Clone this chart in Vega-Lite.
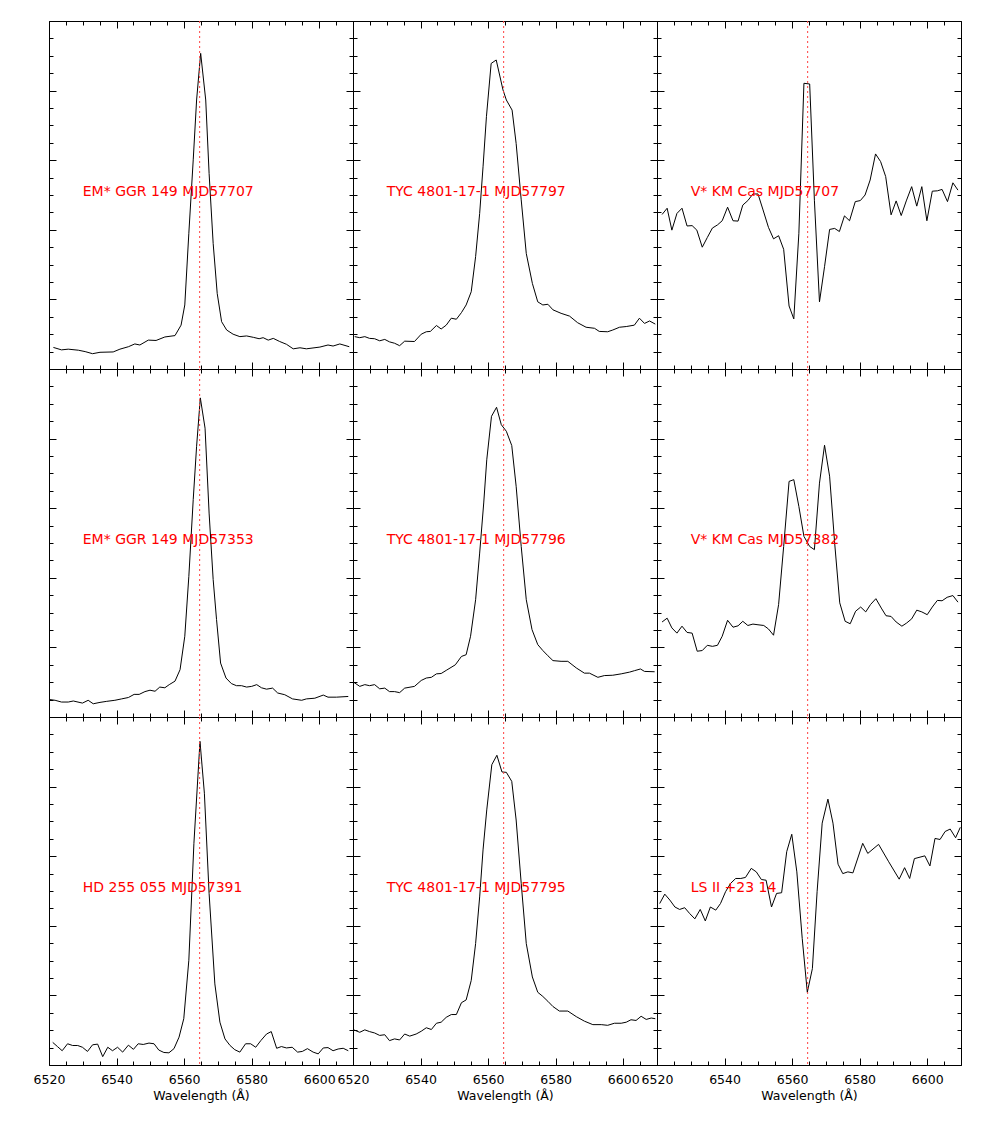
{
"$schema": "https://vega.github.io/schema/vega-lite/v6.json",
"background": "white",
"padding": {"left": 32, "top": 20, "right": 0, "bottom": 0},
"config": {"view": {"stroke": "black", "strokeWidth": 1}, "font": "DejaVu Sans", "axis": {"tickColor": "black", "tickWidth": 1, "labelColor": "black", "titleColor": "black", "labelFont": "DejaVu Sans", "titleFont": "DejaVu Sans"}},
"datasets": {
"s1": [{"w":6521.3,"f":0.062},{"w":6523.7,"f":0.055},{"w":6525.7,"f":0.057},{"w":6528.7,"f":0.054},{"w":6530.7,"f":0.050},{"w":6532.9,"f":0.044},{"w":6535.1,"f":0.048},{"w":6539.0,"f":0.049},{"w":6541.0,"f":0.057},{"w":6543.5,"f":0.064},{"w":6545.4,"f":0.072},{"w":6546.9,"f":0.069},{"w":6549.4,"f":0.083},{"w":6551.7,"f":0.082},{"w":6554.3,"f":0.092},{"w":6557.3,"f":0.096},{"w":6559.1,"f":0.126},{"w":6560.2,"f":0.184},{"w":6561.4,"f":0.390},{"w":6562.7,"f":0.601},{"w":6563.7,"f":0.773},{"w":6564.9,"f":0.907},{"w":6566.4,"f":0.773},{"w":6567.4,"f":0.562},{"w":6568.6,"f":0.361},{"w":6569.8,"f":0.217},{"w":6571.1,"f":0.136},{"w":6572.6,"f":0.112},{"w":6574.5,"f":0.100},{"w":6576.5,"f":0.093},{"w":6578.5,"f":0.095},{"w":6580.5,"f":0.091},{"w":6582.2,"f":0.087},{"w":6583.4,"f":0.090},{"w":6584.9,"f":0.083},{"w":6586.4,"f":0.088},{"w":6588.3,"f":0.079},{"w":6590.3,"f":0.071},{"w":6592.3,"f":0.058},{"w":6594.3,"f":0.061},{"w":6596.2,"f":0.058},{"w":6600.2,"f":0.063},{"w":6602.6,"f":0.069},{"w":6604.1,"f":0.066},{"w":6606.1,"f":0.072},{"w":6608.9,"f":0.064}],
"s2": [{"w":6520.5,"f":0.093},{"w":6522.0,"f":0.090},{"w":6523.5,"f":0.093},{"w":6524.9,"f":0.088},{"w":6526.4,"f":0.087},{"w":6527.9,"f":0.081},{"w":6529.4,"f":0.085},{"w":6530.8,"f":0.078},{"w":6532.3,"f":0.074},{"w":6533.8,"f":0.067},{"w":6535.3,"f":0.080},{"w":6538.2,"f":0.079},{"w":6540.2,"f":0.100},{"w":6541.7,"f":0.107},{"w":6542.9,"f":0.108},{"w":6544.7,"f":0.125},{"w":6546.1,"f":0.115},{"w":6547.6,"f":0.126},{"w":6549.1,"f":0.146},{"w":6550.6,"f":0.143},{"w":6552.1,"f":0.162},{"w":6553.5,"f":0.184},{"w":6555.0,"f":0.222},{"w":6556.3,"f":0.323},{"w":6557.5,"f":0.447},{"w":6558.5,"f":0.581},{"w":6559.5,"f":0.725},{"w":6560.9,"f":0.878},{"w":6562.4,"f":0.888},{"w":6564.4,"f":0.802},{"w":6565.4,"f":0.773},{"w":6567.1,"f":0.744},{"w":6568.3,"f":0.648},{"w":6569.8,"f":0.486},{"w":6571.3,"f":0.332},{"w":6573.1,"f":0.246},{"w":6574.7,"f":0.193},{"w":6576.2,"f":0.184},{"w":6577.7,"f":0.186},{"w":6579.2,"f":0.170},{"w":6581.6,"f":0.160},{"w":6584.1,"f":0.152},{"w":6586.5,"f":0.133},{"w":6589.0,"f":0.120},{"w":6591.5,"f":0.117},{"w":6592.9,"f":0.108},{"w":6595.4,"f":0.107},{"w":6596.9,"f":0.112},{"w":6598.9,"f":0.120},{"w":6600.9,"f":0.122},{"w":6603.3,"f":0.126},{"w":6604.8,"f":0.146},{"w":6606.3,"f":0.131},{"w":6607.8,"f":0.138},{"w":6609.5,"f":0.129}],
"s3": [{"w":6521.5,"f":0.444},{"w":6523.0,"f":0.462},{"w":6524.4,"f":0.399},{"w":6525.9,"f":0.447},{"w":6527.4,"f":0.462},{"w":6528.9,"f":0.411},{"w":6530.4,"f":0.412},{"w":6531.8,"f":0.399},{"w":6533.4,"f":0.350},{"w":6534.9,"f":0.378},{"w":6536.4,"f":0.405},{"w":6537.9,"f":0.414},{"w":6539.3,"f":0.426},{"w":6540.9,"f":0.465},{"w":6542.5,"f":0.426},{"w":6544.0,"f":0.425},{"w":6545.4,"f":0.471},{"w":6546.9,"f":0.484},{"w":6548.4,"f":0.503},{"w":6549.9,"f":0.503},{"w":6551.4,"f":0.457},{"w":6553.0,"f":0.407},{"w":6554.5,"f":0.374},{"w":6556.0,"f":0.383},{"w":6557.5,"f":0.344},{"w":6559.1,"f":0.181},{"w":6560.5,"f":0.144},{"w":6562.0,"f":0.390},{"w":6563.5,"f":0.821},{"w":6565.2,"f":0.819},{"w":6566.6,"f":0.485},{"w":6568.1,"f":0.193},{"w":6569.6,"f":0.294},{"w":6571.1,"f":0.401},{"w":6572.6,"f":0.404},{"w":6574.0,"f":0.395},{"w":6575.5,"f":0.440},{"w":6577.0,"f":0.426},{"w":6578.7,"f":0.481},{"w":6580.2,"f":0.484},{"w":6581.6,"f":0.500},{"w":6583.1,"f":0.543},{"w":6584.7,"f":0.618},{"w":6586.2,"f":0.596},{"w":6587.7,"f":0.553},{"w":6589.3,"f":0.443},{"w":6590.8,"f":0.483},{"w":6592.3,"f":0.441},{"w":6593.8,"f":0.483},{"w":6595.4,"f":0.524},{"w":6596.9,"f":0.468},{"w":6598.4,"f":0.524},{"w":6599.9,"f":0.426},{"w":6601.5,"f":0.511},{"w":6603.0,"f":0.512},{"w":6604.4,"f":0.516},{"w":6606.0,"f":0.481},{"w":6607.6,"f":0.535},{"w":6609.1,"f":0.514}],
"s4": [{"w":6520.3,"f":0.050},{"w":6521.8,"f":0.048},{"w":6523.7,"f":0.043},{"w":6525.7,"f":0.043},{"w":6527.2,"f":0.046},{"w":6529.9,"f":0.040},{"w":6531.6,"f":0.048},{"w":6533.1,"f":0.038},{"w":6535.1,"f":0.042},{"w":6537.1,"f":0.045},{"w":6539.5,"f":0.048},{"w":6541.5,"f":0.052},{"w":6543.5,"f":0.056},{"w":6545.2,"f":0.065},{"w":6546.7,"f":0.065},{"w":6548.4,"f":0.073},{"w":6549.9,"f":0.077},{"w":6551.4,"f":0.074},{"w":6552.8,"f":0.086},{"w":6554.3,"f":0.084},{"w":6555.6,"f":0.093},{"w":6557.3,"f":0.103},{"w":6558.8,"f":0.136},{"w":6560.2,"f":0.232},{"w":6561.4,"f":0.404},{"w":6562.7,"f":0.625},{"w":6563.7,"f":0.778},{"w":6564.8,"f":0.917},{"w":6566.2,"f":0.830},{"w":6567.4,"f":0.586},{"w":6568.6,"f":0.395},{"w":6569.6,"f":0.280},{"w":6570.8,"f":0.155},{"w":6572.4,"f":0.112},{"w":6574.0,"f":0.096},{"w":6575.5,"f":0.090},{"w":6577.0,"f":0.090},{"w":6578.5,"f":0.086},{"w":6580.0,"f":0.088},{"w":6581.5,"f":0.093},{"w":6582.9,"f":0.084},{"w":6584.4,"f":0.080},{"w":6586.2,"f":0.083},{"w":6587.7,"f":0.069},{"w":6589.8,"f":0.064},{"w":6592.1,"f":0.052},{"w":6594.8,"f":0.048},{"w":6596.2,"f":0.052},{"w":6598.7,"f":0.054},{"w":6601.2,"f":0.063},{"w":6602.6,"f":0.057},{"w":6605.1,"f":0.057},{"w":6608.6,"f":0.059}],
"s5": [{"w":6520.2,"f":0.100},{"w":6522.0,"f":0.088},{"w":6523.5,"f":0.093},{"w":6524.9,"f":0.090},{"w":6526.4,"f":0.093},{"w":6527.9,"f":0.081},{"w":6529.4,"f":0.083},{"w":6530.8,"f":0.073},{"w":6532.3,"f":0.073},{"w":6533.8,"f":0.070},{"w":6535.3,"f":0.083},{"w":6538.2,"f":0.088},{"w":6540.2,"f":0.105},{"w":6541.7,"f":0.112},{"w":6543.2,"f":0.114},{"w":6544.7,"f":0.124},{"w":6546.1,"f":0.125},{"w":6547.6,"f":0.134},{"w":6550.3,"f":0.150},{"w":6552.1,"f":0.174},{"w":6553.5,"f":0.179},{"w":6554.8,"f":0.232},{"w":6556.3,"f":0.337},{"w":6557.5,"f":0.471},{"w":6558.7,"f":0.615},{"w":6559.6,"f":0.739},{"w":6561.0,"f":0.864},{"w":6562.5,"f":0.890},{"w":6563.9,"f":0.840},{"w":6565.4,"f":0.821},{"w":6567.0,"f":0.780},{"w":6568.3,"f":0.663},{"w":6569.8,"f":0.490},{"w":6571.3,"f":0.337},{"w":6573.0,"f":0.251},{"w":6574.7,"f":0.208},{"w":6576.2,"f":0.191},{"w":6577.7,"f":0.176},{"w":6579.2,"f":0.162},{"w":6581.6,"f":0.160},{"w":6583.6,"f":0.160},{"w":6586.1,"f":0.141},{"w":6588.5,"f":0.126},{"w":6590.0,"f":0.126},{"w":6592.5,"f":0.114},{"w":6594.4,"f":0.119},{"w":6596.9,"f":0.120},{"w":6599.4,"f":0.124},{"w":6601.9,"f":0.129},{"w":6603.3,"f":0.133},{"w":6605.1,"f":0.138},{"w":6606.3,"f":0.131},{"w":6609.3,"f":0.130}],
"s6": [{"w":6521.5,"f":0.273},{"w":6523.0,"f":0.284},{"w":6524.4,"f":0.256},{"w":6525.9,"f":0.241},{"w":6527.4,"f":0.261},{"w":6528.9,"f":0.243},{"w":6530.4,"f":0.241},{"w":6531.9,"f":0.189},{"w":6533.4,"f":0.191},{"w":6534.9,"f":0.206},{"w":6536.4,"f":0.203},{"w":6537.9,"f":0.206},{"w":6539.3,"f":0.232},{"w":6540.9,"f":0.278},{"w":6542.5,"f":0.258},{"w":6544.0,"f":0.262},{"w":6545.4,"f":0.275},{"w":6546.9,"f":0.263},{"w":6548.4,"f":0.267},{"w":6549.9,"f":0.265},{"w":6551.6,"f":0.263},{"w":6553.0,"f":0.253},{"w":6554.5,"f":0.235},{"w":6556.0,"f":0.323},{"w":6557.5,"f":0.490},{"w":6559.1,"f":0.677},{"w":6560.5,"f":0.682},{"w":6562.0,"f":0.605},{"w":6563.5,"f":0.519},{"w":6565.2,"f":0.490},{"w":6566.6,"f":0.481},{"w":6568.1,"f":0.672},{"w":6569.6,"f":0.781},{"w":6571.1,"f":0.692},{"w":6572.6,"f":0.500},{"w":6574.1,"f":0.328},{"w":6575.7,"f":0.275},{"w":6577.2,"f":0.268},{"w":6578.8,"f":0.304},{"w":6580.3,"f":0.316},{"w":6581.8,"f":0.302},{"w":6583.2,"f":0.323},{"w":6584.8,"f":0.340},{"w":6586.4,"f":0.313},{"w":6587.8,"f":0.291},{"w":6589.3,"f":0.289},{"w":6590.8,"f":0.273},{"w":6592.5,"f":0.261},{"w":6593.9,"f":0.270},{"w":6595.4,"f":0.282},{"w":6596.9,"f":0.307},{"w":6598.4,"f":0.302},{"w":6600.0,"f":0.294},{"w":6601.5,"f":0.316},{"w":6603.0,"f":0.335},{"w":6604.4,"f":0.334},{"w":6605.9,"f":0.344},{"w":6607.6,"f":0.349},{"w":6609.1,"f":0.330}],
"s7": [{"w":6521.1,"f":0.065},{"w":6522.5,"f":0.053},{"w":6523.9,"f":0.041},{"w":6525.5,"f":0.061},{"w":6527.0,"f":0.056},{"w":6528.5,"f":0.056},{"w":6529.9,"f":0.051},{"w":6531.4,"f":0.039},{"w":6532.9,"f":0.058},{"w":6534.4,"f":0.060},{"w":6535.9,"f":0.024},{"w":6537.4,"f":0.051},{"w":6538.8,"f":0.041},{"w":6540.3,"f":0.051},{"w":6541.8,"f":0.037},{"w":6543.5,"f":0.057},{"w":6545.0,"f":0.045},{"w":6546.4,"f":0.061},{"w":6547.9,"f":0.059},{"w":6549.6,"f":0.063},{"w":6551.1,"f":0.061},{"w":6552.5,"f":0.043},{"w":6554.0,"f":0.036},{"w":6555.5,"f":0.035},{"w":6557.0,"f":0.047},{"w":6558.5,"f":0.080},{"w":6559.9,"f":0.133},{"w":6561.4,"f":0.301},{"w":6562.9,"f":0.637},{"w":6564.7,"f":0.930},{"w":6566.0,"f":0.781},{"w":6567.4,"f":0.493},{"w":6569.1,"f":0.233},{"w":6570.6,"f":0.123},{"w":6572.1,"f":0.075},{"w":6573.6,"f":0.056},{"w":6575.0,"f":0.044},{"w":6576.5,"f":0.037},{"w":6578.2,"f":0.061},{"w":6579.7,"f":0.061},{"w":6581.2,"f":0.051},{"w":6582.7,"f":0.070},{"w":6584.4,"f":0.089},{"w":6585.8,"f":0.096},{"w":6587.4,"f":0.048},{"w":6588.8,"f":0.053},{"w":6590.3,"f":0.049},{"w":6592.0,"f":0.051},{"w":6593.6,"f":0.037},{"w":6595.0,"f":0.039},{"w":6596.5,"f":0.047},{"w":6598.2,"f":0.037},{"w":6599.7,"f":0.032},{"w":6601.2,"f":0.049},{"w":6602.6,"f":0.050},{"w":6604.1,"f":0.041},{"w":6605.6,"f":0.046},{"w":6607.1,"f":0.048},{"w":6608.6,"f":0.041}],
"s8": [{"w":6520.2,"f":0.101},{"w":6522.0,"f":0.094},{"w":6523.5,"f":0.101},{"w":6524.9,"f":0.096},{"w":6526.4,"f":0.092},{"w":6527.9,"f":0.085},{"w":6529.4,"f":0.087},{"w":6530.8,"f":0.070},{"w":6532.3,"f":0.075},{"w":6533.8,"f":0.072},{"w":6535.3,"f":0.089},{"w":6536.8,"f":0.083},{"w":6538.7,"f":0.089},{"w":6540.2,"f":0.097},{"w":6541.7,"f":0.107},{"w":6543.2,"f":0.102},{"w":6544.7,"f":0.120},{"w":6546.1,"f":0.123},{"w":6547.6,"f":0.137},{"w":6549.1,"f":0.145},{"w":6550.6,"f":0.145},{"w":6552.1,"f":0.179},{"w":6553.5,"f":0.187},{"w":6555.0,"f":0.243},{"w":6556.3,"f":0.349},{"w":6557.5,"f":0.483},{"w":6558.5,"f":0.618},{"w":6559.6,"f":0.733},{"w":6561.1,"f":0.863},{"w":6562.6,"f":0.890},{"w":6564.1,"f":0.842},{"w":6565.4,"f":0.841},{"w":6567.0,"f":0.815},{"w":6568.3,"f":0.704},{"w":6569.8,"f":0.522},{"w":6571.3,"f":0.349},{"w":6573.1,"f":0.253},{"w":6574.7,"f":0.209},{"w":6576.2,"f":0.197},{"w":6577.7,"f":0.183},{"w":6579.2,"f":0.168},{"w":6581.1,"f":0.155},{"w":6583.6,"f":0.155},{"w":6586.1,"f":0.139},{"w":6588.5,"f":0.126},{"w":6591.0,"f":0.116},{"w":6593.5,"f":0.116},{"w":6595.4,"f":0.114},{"w":6597.4,"f":0.120},{"w":6599.4,"f":0.120},{"w":6600.9,"f":0.123},{"w":6602.3,"f":0.130},{"w":6603.8,"f":0.128},{"w":6605.3,"f":0.140},{"w":6606.8,"f":0.131},{"w":6608.3,"f":0.135},{"w":6609.5,"f":0.133}],
"s9": [{"w":6520.8,"f":0.464},{"w":6522.3,"f":0.491},{"w":6523.8,"f":0.474},{"w":6525.3,"f":0.454},{"w":6526.7,"f":0.447},{"w":6528.2,"f":0.452},{"w":6529.7,"f":0.435},{"w":6531.2,"f":0.420},{"w":6532.8,"f":0.447},{"w":6534.3,"f":0.414},{"w":6535.8,"f":0.454},{"w":6537.4,"f":0.445},{"w":6538.8,"f":0.464},{"w":6540.3,"f":0.498},{"w":6541.8,"f":0.522},{"w":6543.3,"f":0.536},{"w":6544.8,"f":0.536},{"w":6546.2,"f":0.539},{"w":6547.9,"f":0.565},{"w":6549.4,"f":0.555},{"w":6550.9,"f":0.533},{"w":6552.3,"f":0.531},{"w":6553.9,"f":0.454},{"w":6555.4,"f":0.493},{"w":6556.9,"f":0.495},{"w":6558.4,"f":0.613},{"w":6559.9,"f":0.663},{"w":6561.4,"f":0.555},{"w":6563.0,"f":0.363},{"w":6564.5,"f":0.209},{"w":6566.0,"f":0.277},{"w":6567.4,"f":0.498},{"w":6568.9,"f":0.695},{"w":6570.6,"f":0.764},{"w":6572.1,"f":0.695},{"w":6573.6,"f":0.577},{"w":6575.0,"f":0.550},{"w":6576.5,"f":0.555},{"w":6578.0,"f":0.552},{"w":6580.9,"f":0.637},{"w":6582.4,"f":0.608},{"w":6585.6,"f":0.634},{"w":6588.6,"f":0.584},{"w":6591.7,"f":0.534},{"w":6593.3,"f":0.567},{"w":6594.8,"f":0.536},{"w":6596.2,"f":0.593},{"w":6599.3,"f":0.601},{"w":6600.8,"f":0.572},{"w":6602.3,"f":0.651},{"w":6603.8,"f":0.648},{"w":6605.3,"f":0.671},{"w":6606.8,"f":0.678},{"w":6608.4,"f":0.653},{"w":6609.8,"f":0.683}]
},
"columns": 3,
"spacing": 0,
"bounds": "flush",
"concat": [
{"width": 304, "height": 348, "layer": [
 {"data": {"name": "s1"}, "mark": {"type": "line", "color": "black", "strokeWidth": 1}, "encoding": {
  "x": {"field": "w", "type": "quantitative", "scale": {"domain": [6520, 6610], "nice": false, "zero": false}, "axis": {"orient": "bottom", "labels": false, "title": null, "domain": false, "grid": false, "tickCount": 18, "tickSize": {"condition": {"test": "datum.value % 20 === 0", "value": -7}, "value": -4}}},
  "y": {"field": "f", "type": "quantitative", "scale": {"domain": [0, 1], "nice": false, "zero": false}, "axis": {"orient": "left", "labels": false, "title": null, "domain": false, "grid": false, "tickCount": 20, "tickSize": {"condition": {"test": "abs(datum.value*5-round(datum.value*5))<0.001", "value": -7}, "value": -4}}}}},
 {"data": {"values": [{}]}, "mark": {"type": "rule", "color": "#ff4040", "strokeWidth": 1, "strokeDash": [2, 3]}, "encoding": {
  "x": {"datum": 6564.6, "type": "quantitative", "scale": {"domain": [6520, 6610], "nice": false, "zero": false}, "axis": {"orient": "top", "labels": false, "title": null, "domain": false, "grid": false, "tickCount": 18, "tickSize": {"condition": {"test": "datum.value % 20 === 0", "value": -7}, "value": -4}}}}},
 {"data": {"values": [{}]}, "mark": {"type": "text", "text": "EM* GGR 149 MJD57707", "align": "left", "baseline": "middle", "color": "#ff0000", "font": "DejaVu Sans", "fontSize": 14}, "encoding": {
  "x": {"datum": 6530, "type": "quantitative", "scale": {"domain": [6520, 6610], "nice": false, "zero": false}, "axis": null},
  "y": {"datum": 0.51, "type": "quantitative", "scale": {"domain": [0, 1], "nice": false, "zero": false}, "axis": {"orient": "right", "labels": false, "title": null, "domain": false, "grid": false, "tickCount": 20, "tickSize": {"condition": {"test": "abs(datum.value*5-round(datum.value*5))<0.001", "value": -7}, "value": -4}}}}}
], "resolve": {"axis": {"x": "independent", "y": "independent"}}},
{"width": 304, "height": 348, "layer": [
 {"data": {"name": "s2"}, "mark": {"type": "line", "color": "black", "strokeWidth": 1}, "encoding": {
  "x": {"field": "w", "type": "quantitative", "scale": {"domain": [6520, 6610], "nice": false, "zero": false}, "axis": {"orient": "bottom", "labels": false, "title": null, "domain": false, "grid": false, "tickCount": 18, "tickSize": {"condition": {"test": "datum.value % 20 === 0", "value": -7}, "value": -4}}},
  "y": {"field": "f", "type": "quantitative", "scale": {"domain": [0, 1], "nice": false, "zero": false}, "axis": {"orient": "left", "labels": false, "title": null, "domain": false, "grid": false, "tickCount": 20, "tickSize": {"condition": {"test": "abs(datum.value*5-round(datum.value*5))<0.001", "value": -7}, "value": -4}}}}},
 {"data": {"values": [{}]}, "mark": {"type": "rule", "color": "#ff4040", "strokeWidth": 1, "strokeDash": [2, 3]}, "encoding": {
  "x": {"datum": 6564.6, "type": "quantitative", "scale": {"domain": [6520, 6610], "nice": false, "zero": false}, "axis": {"orient": "top", "labels": false, "title": null, "domain": false, "grid": false, "tickCount": 18, "tickSize": {"condition": {"test": "datum.value % 20 === 0", "value": -7}, "value": -4}}}}},
 {"data": {"values": [{}]}, "mark": {"type": "text", "text": "TYC 4801-17-1 MJD57797", "align": "left", "baseline": "middle", "color": "#ff0000", "font": "DejaVu Sans", "fontSize": 14}, "encoding": {
  "x": {"datum": 6530, "type": "quantitative", "scale": {"domain": [6520, 6610], "nice": false, "zero": false}, "axis": null},
  "y": {"datum": 0.51, "type": "quantitative", "scale": {"domain": [0, 1], "nice": false, "zero": false}, "axis": {"orient": "right", "labels": false, "title": null, "domain": false, "grid": false, "tickCount": 20, "tickSize": {"condition": {"test": "abs(datum.value*5-round(datum.value*5))<0.001", "value": -7}, "value": -4}}}}}
], "resolve": {"axis": {"x": "independent", "y": "independent"}}},
{"width": 304, "height": 348, "layer": [
 {"data": {"name": "s3"}, "mark": {"type": "line", "color": "black", "strokeWidth": 1}, "encoding": {
  "x": {"field": "w", "type": "quantitative", "scale": {"domain": [6520, 6610], "nice": false, "zero": false}, "axis": {"orient": "bottom", "labels": false, "title": null, "domain": false, "grid": false, "tickCount": 18, "tickSize": {"condition": {"test": "datum.value % 20 === 0", "value": -7}, "value": -4}}},
  "y": {"field": "f", "type": "quantitative", "scale": {"domain": [0, 1], "nice": false, "zero": false}, "axis": {"orient": "left", "labels": false, "title": null, "domain": false, "grid": false, "tickCount": 20, "tickSize": {"condition": {"test": "abs(datum.value*5-round(datum.value*5))<0.001", "value": -7}, "value": -4}}}}},
 {"data": {"values": [{}]}, "mark": {"type": "rule", "color": "#ff4040", "strokeWidth": 1, "strokeDash": [2, 3]}, "encoding": {
  "x": {"datum": 6564.6, "type": "quantitative", "scale": {"domain": [6520, 6610], "nice": false, "zero": false}, "axis": {"orient": "top", "labels": false, "title": null, "domain": false, "grid": false, "tickCount": 18, "tickSize": {"condition": {"test": "datum.value % 20 === 0", "value": -7}, "value": -4}}}}},
 {"data": {"values": [{}]}, "mark": {"type": "text", "text": "V* KM Cas MJD57707", "align": "left", "baseline": "middle", "color": "#ff0000", "font": "DejaVu Sans", "fontSize": 14}, "encoding": {
  "x": {"datum": 6530, "type": "quantitative", "scale": {"domain": [6520, 6610], "nice": false, "zero": false}, "axis": null},
  "y": {"datum": 0.51, "type": "quantitative", "scale": {"domain": [0, 1], "nice": false, "zero": false}, "axis": {"orient": "right", "labels": false, "title": null, "domain": false, "grid": false, "tickCount": 20, "tickSize": {"condition": {"test": "abs(datum.value*5-round(datum.value*5))<0.001", "value": -7}, "value": -4}}}}}
], "resolve": {"axis": {"x": "independent", "y": "independent"}}},
{"width": 304, "height": 348, "layer": [
 {"data": {"name": "s4"}, "mark": {"type": "line", "color": "black", "strokeWidth": 1}, "encoding": {
  "x": {"field": "w", "type": "quantitative", "scale": {"domain": [6520, 6610], "nice": false, "zero": false}, "axis": {"orient": "bottom", "labels": false, "title": null, "domain": false, "grid": false, "tickCount": 18, "tickSize": {"condition": {"test": "datum.value % 20 === 0", "value": -7}, "value": -4}}},
  "y": {"field": "f", "type": "quantitative", "scale": {"domain": [0, 1], "nice": false, "zero": false}, "axis": {"orient": "left", "labels": false, "title": null, "domain": false, "grid": false, "tickCount": 20, "tickSize": {"condition": {"test": "abs(datum.value*5-round(datum.value*5))<0.001", "value": -7}, "value": -4}}}}},
 {"data": {"values": [{}]}, "mark": {"type": "rule", "color": "#ff4040", "strokeWidth": 1, "strokeDash": [2, 3]}, "encoding": {
  "x": {"datum": 6564.6, "type": "quantitative", "scale": {"domain": [6520, 6610], "nice": false, "zero": false}, "axis": {"orient": "top", "labels": false, "title": null, "domain": false, "grid": false, "tickCount": 18, "tickSize": {"condition": {"test": "datum.value % 20 === 0", "value": -7}, "value": -4}}}}},
 {"data": {"values": [{}]}, "mark": {"type": "text", "text": "EM* GGR 149 MJD57353", "align": "left", "baseline": "middle", "color": "#ff0000", "font": "DejaVu Sans", "fontSize": 14}, "encoding": {
  "x": {"datum": 6530, "type": "quantitative", "scale": {"domain": [6520, 6610], "nice": false, "zero": false}, "axis": null},
  "y": {"datum": 0.51, "type": "quantitative", "scale": {"domain": [0, 1], "nice": false, "zero": false}, "axis": {"orient": "right", "labels": false, "title": null, "domain": false, "grid": false, "tickCount": 20, "tickSize": {"condition": {"test": "abs(datum.value*5-round(datum.value*5))<0.001", "value": -7}, "value": -4}}}}}
], "resolve": {"axis": {"x": "independent", "y": "independent"}}},
{"width": 304, "height": 348, "layer": [
 {"data": {"name": "s5"}, "mark": {"type": "line", "color": "black", "strokeWidth": 1}, "encoding": {
  "x": {"field": "w", "type": "quantitative", "scale": {"domain": [6520, 6610], "nice": false, "zero": false}, "axis": {"orient": "bottom", "labels": false, "title": null, "domain": false, "grid": false, "tickCount": 18, "tickSize": {"condition": {"test": "datum.value % 20 === 0", "value": -7}, "value": -4}}},
  "y": {"field": "f", "type": "quantitative", "scale": {"domain": [0, 1], "nice": false, "zero": false}, "axis": {"orient": "left", "labels": false, "title": null, "domain": false, "grid": false, "tickCount": 20, "tickSize": {"condition": {"test": "abs(datum.value*5-round(datum.value*5))<0.001", "value": -7}, "value": -4}}}}},
 {"data": {"values": [{}]}, "mark": {"type": "rule", "color": "#ff4040", "strokeWidth": 1, "strokeDash": [2, 3]}, "encoding": {
  "x": {"datum": 6564.6, "type": "quantitative", "scale": {"domain": [6520, 6610], "nice": false, "zero": false}, "axis": {"orient": "top", "labels": false, "title": null, "domain": false, "grid": false, "tickCount": 18, "tickSize": {"condition": {"test": "datum.value % 20 === 0", "value": -7}, "value": -4}}}}},
 {"data": {"values": [{}]}, "mark": {"type": "text", "text": "TYC 4801-17-1 MJD57796", "align": "left", "baseline": "middle", "color": "#ff0000", "font": "DejaVu Sans", "fontSize": 14}, "encoding": {
  "x": {"datum": 6530, "type": "quantitative", "scale": {"domain": [6520, 6610], "nice": false, "zero": false}, "axis": null},
  "y": {"datum": 0.51, "type": "quantitative", "scale": {"domain": [0, 1], "nice": false, "zero": false}, "axis": {"orient": "right", "labels": false, "title": null, "domain": false, "grid": false, "tickCount": 20, "tickSize": {"condition": {"test": "abs(datum.value*5-round(datum.value*5))<0.001", "value": -7}, "value": -4}}}}}
], "resolve": {"axis": {"x": "independent", "y": "independent"}}},
{"width": 304, "height": 348, "layer": [
 {"data": {"name": "s6"}, "mark": {"type": "line", "color": "black", "strokeWidth": 1}, "encoding": {
  "x": {"field": "w", "type": "quantitative", "scale": {"domain": [6520, 6610], "nice": false, "zero": false}, "axis": {"orient": "bottom", "labels": false, "title": null, "domain": false, "grid": false, "tickCount": 18, "tickSize": {"condition": {"test": "datum.value % 20 === 0", "value": -7}, "value": -4}}},
  "y": {"field": "f", "type": "quantitative", "scale": {"domain": [0, 1], "nice": false, "zero": false}, "axis": {"orient": "left", "labels": false, "title": null, "domain": false, "grid": false, "tickCount": 20, "tickSize": {"condition": {"test": "abs(datum.value*5-round(datum.value*5))<0.001", "value": -7}, "value": -4}}}}},
 {"data": {"values": [{}]}, "mark": {"type": "rule", "color": "#ff4040", "strokeWidth": 1, "strokeDash": [2, 3]}, "encoding": {
  "x": {"datum": 6564.6, "type": "quantitative", "scale": {"domain": [6520, 6610], "nice": false, "zero": false}, "axis": {"orient": "top", "labels": false, "title": null, "domain": false, "grid": false, "tickCount": 18, "tickSize": {"condition": {"test": "datum.value % 20 === 0", "value": -7}, "value": -4}}}}},
 {"data": {"values": [{}]}, "mark": {"type": "text", "text": "V* KM Cas MJD57382", "align": "left", "baseline": "middle", "color": "#ff0000", "font": "DejaVu Sans", "fontSize": 14}, "encoding": {
  "x": {"datum": 6530, "type": "quantitative", "scale": {"domain": [6520, 6610], "nice": false, "zero": false}, "axis": null},
  "y": {"datum": 0.51, "type": "quantitative", "scale": {"domain": [0, 1], "nice": false, "zero": false}, "axis": {"orient": "right", "labels": false, "title": null, "domain": false, "grid": false, "tickCount": 20, "tickSize": {"condition": {"test": "abs(datum.value*5-round(datum.value*5))<0.001", "value": -7}, "value": -4}}}}}
], "resolve": {"axis": {"x": "independent", "y": "independent"}}},
{"width": 304, "height": 348, "layer": [
 {"data": {"name": "s7"}, "mark": {"type": "line", "color": "black", "strokeWidth": 1}, "encoding": {
  "x": {"field": "w", "type": "quantitative", "scale": {"domain": [6520, 6610], "nice": false, "zero": false}, "axis": {"orient": "bottom", "title": "Wavelength (Å)", "titleFontSize": 12.5, "titleFontWeight": "normal", "titlePadding": 1, "labelFontSize": 12.5, "format": "d", "labelExpr": "datum.value % 20 === 0 ? datum.label : ''", "labelFlush": false, "labelOverlap": false, "labelBound": false, "labelPadding": 15, "domain": false, "grid": false, "tickCount": 18, "tickSize": {"condition": {"test": "datum.value % 20 === 0", "value": -7}, "value": -4}}},
  "y": {"field": "f", "type": "quantitative", "scale": {"domain": [0, 1], "nice": false, "zero": false}, "axis": {"orient": "left", "labels": false, "title": null, "domain": false, "grid": false, "tickCount": 20, "tickSize": {"condition": {"test": "abs(datum.value*5-round(datum.value*5))<0.001", "value": -7}, "value": -4}}}}},
 {"data": {"values": [{}]}, "mark": {"type": "rule", "color": "#ff4040", "strokeWidth": 1, "strokeDash": [2, 3]}, "encoding": {
  "x": {"datum": 6564.6, "type": "quantitative", "scale": {"domain": [6520, 6610], "nice": false, "zero": false}, "axis": {"orient": "top", "labels": false, "title": null, "domain": false, "grid": false, "tickCount": 18, "tickSize": {"condition": {"test": "datum.value % 20 === 0", "value": -7}, "value": -4}}}}},
 {"data": {"values": [{}]}, "mark": {"type": "text", "text": "HD 255 055 MJD57391", "align": "left", "baseline": "middle", "color": "#ff0000", "font": "DejaVu Sans", "fontSize": 14}, "encoding": {
  "x": {"datum": 6530, "type": "quantitative", "scale": {"domain": [6520, 6610], "nice": false, "zero": false}, "axis": null},
  "y": {"datum": 0.51, "type": "quantitative", "scale": {"domain": [0, 1], "nice": false, "zero": false}, "axis": {"orient": "right", "labels": false, "title": null, "domain": false, "grid": false, "tickCount": 20, "tickSize": {"condition": {"test": "abs(datum.value*5-round(datum.value*5))<0.001", "value": -7}, "value": -4}}}}}
], "resolve": {"axis": {"x": "independent", "y": "independent"}}},
{"width": 304, "height": 348, "layer": [
 {"data": {"name": "s8"}, "mark": {"type": "line", "color": "black", "strokeWidth": 1}, "encoding": {
  "x": {"field": "w", "type": "quantitative", "scale": {"domain": [6520, 6610], "nice": false, "zero": false}, "axis": {"orient": "bottom", "title": "Wavelength (Å)", "titleFontSize": 12.5, "titleFontWeight": "normal", "titlePadding": 1, "labelFontSize": 12.5, "format": "d", "labelExpr": "datum.value % 20 === 0 ? datum.label : ''", "labelFlush": false, "labelOverlap": false, "labelBound": false, "labelPadding": 15, "domain": false, "grid": false, "tickCount": 18, "tickSize": {"condition": {"test": "datum.value % 20 === 0", "value": -7}, "value": -4}}},
  "y": {"field": "f", "type": "quantitative", "scale": {"domain": [0, 1], "nice": false, "zero": false}, "axis": {"orient": "left", "labels": false, "title": null, "domain": false, "grid": false, "tickCount": 20, "tickSize": {"condition": {"test": "abs(datum.value*5-round(datum.value*5))<0.001", "value": -7}, "value": -4}}}}},
 {"data": {"values": [{}]}, "mark": {"type": "rule", "color": "#ff4040", "strokeWidth": 1, "strokeDash": [2, 3]}, "encoding": {
  "x": {"datum": 6564.6, "type": "quantitative", "scale": {"domain": [6520, 6610], "nice": false, "zero": false}, "axis": {"orient": "top", "labels": false, "title": null, "domain": false, "grid": false, "tickCount": 18, "tickSize": {"condition": {"test": "datum.value % 20 === 0", "value": -7}, "value": -4}}}}},
 {"data": {"values": [{}]}, "mark": {"type": "text", "text": "TYC 4801-17-1 MJD57795", "align": "left", "baseline": "middle", "color": "#ff0000", "font": "DejaVu Sans", "fontSize": 14}, "encoding": {
  "x": {"datum": 6530, "type": "quantitative", "scale": {"domain": [6520, 6610], "nice": false, "zero": false}, "axis": null},
  "y": {"datum": 0.51, "type": "quantitative", "scale": {"domain": [0, 1], "nice": false, "zero": false}, "axis": {"orient": "right", "labels": false, "title": null, "domain": false, "grid": false, "tickCount": 20, "tickSize": {"condition": {"test": "abs(datum.value*5-round(datum.value*5))<0.001", "value": -7}, "value": -4}}}}}
], "resolve": {"axis": {"x": "independent", "y": "independent"}}},
{"width": 304, "height": 348, "layer": [
 {"data": {"name": "s9"}, "mark": {"type": "line", "color": "black", "strokeWidth": 1}, "encoding": {
  "x": {"field": "w", "type": "quantitative", "scale": {"domain": [6520, 6610], "nice": false, "zero": false}, "axis": {"orient": "bottom", "title": "Wavelength (Å)", "titleFontSize": 12.5, "titleFontWeight": "normal", "titlePadding": 1, "labelFontSize": 12.5, "format": "d", "labelExpr": "datum.value % 20 === 0 ? datum.label : ''", "labelFlush": false, "labelOverlap": false, "labelBound": false, "labelPadding": 15, "domain": false, "grid": false, "tickCount": 18, "tickSize": {"condition": {"test": "datum.value % 20 === 0", "value": -7}, "value": -4}}},
  "y": {"field": "f", "type": "quantitative", "scale": {"domain": [0, 1], "nice": false, "zero": false}, "axis": {"orient": "left", "labels": false, "title": null, "domain": false, "grid": false, "tickCount": 20, "tickSize": {"condition": {"test": "abs(datum.value*5-round(datum.value*5))<0.001", "value": -7}, "value": -4}}}}},
 {"data": {"values": [{}]}, "mark": {"type": "rule", "color": "#ff4040", "strokeWidth": 1, "strokeDash": [2, 3]}, "encoding": {
  "x": {"datum": 6564.6, "type": "quantitative", "scale": {"domain": [6520, 6610], "nice": false, "zero": false}, "axis": {"orient": "top", "labels": false, "title": null, "domain": false, "grid": false, "tickCount": 18, "tickSize": {"condition": {"test": "datum.value % 20 === 0", "value": -7}, "value": -4}}}}},
 {"data": {"values": [{}]}, "mark": {"type": "text", "text": "LS II +23 14", "align": "left", "baseline": "middle", "color": "#ff0000", "font": "DejaVu Sans", "fontSize": 14}, "encoding": {
  "x": {"datum": 6530, "type": "quantitative", "scale": {"domain": [6520, 6610], "nice": false, "zero": false}, "axis": null},
  "y": {"datum": 0.51, "type": "quantitative", "scale": {"domain": [0, 1], "nice": false, "zero": false}, "axis": {"orient": "right", "labels": false, "title": null, "domain": false, "grid": false, "tickCount": 20, "tickSize": {"condition": {"test": "abs(datum.value*5-round(datum.value*5))<0.001", "value": -7}, "value": -4}}}}}
], "resolve": {"axis": {"x": "independent", "y": "independent"}}}
]
}
